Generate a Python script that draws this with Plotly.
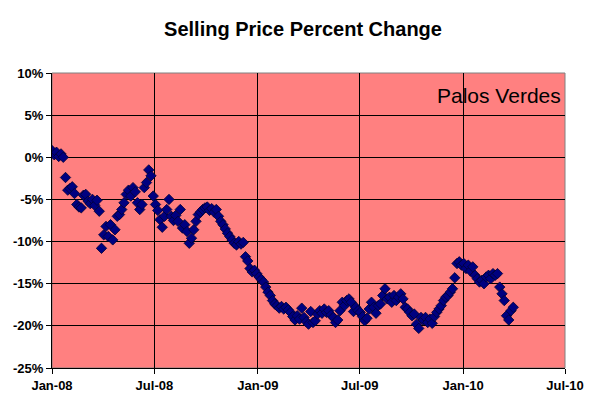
import pandas as pd
import plotly.graph_objects as go

# sampling of the series: every 4 days starting Jan 1 2008
start_date = "2008-01-01"
step = "4D"

pct_change = [
    0.8, 0.3, 0.6, 0.1, 0.4, 0.0, -2.4, -3.9, -3.7, -3.5,
    -4.3, -5.6, -5.9, -6.0, -4.5, -4.4, -5.2, -5.5, -5.0, -5.7,
    -5.1, -6.4, -10.8, -9.2, -8.2, -9.4, -8.0, -9.8, -8.6, -7.0,
    -6.8, -6.2, -5.4, -4.4, -3.9, -4.6, -3.6, -4.1, -5.4, -6.2,
    -5.6, -3.6, -3.0, -1.5, -2.2, -4.6, -5.6, -6.3, -7.4, -8.3,
    -7.0, -6.2, -5.0, -7.0, -7.5, -6.9, -7.6, -6.2, -8.4, -8.0,
    -8.8, -10.2, -9.6, -8.6, -7.6, -6.8, -6.5, -6.2, -6.0, -5.9,
    -6.3, -6.1, -6.5, -6.2, -7.0, -7.6, -8.0, -8.5, -9.0, -9.4,
    -9.8, -10.2, -10.4, -10.0, -10.3, -10.1, -11.8, -12.3, -13.2, -13.6,
    -13.4, -13.8, -14.2, -14.5, -14.8, -15.4, -16.0, -16.4, -17.0, -17.4,
    -17.6, -17.9, -17.7, -18.0, -17.8, -18.1, -18.4, -18.9, -19.3, -18.8,
    -19.2, -17.9, -19.0, -19.5, -19.8, -18.3, -19.6, -19.4, -18.6, -18.2,
    -18.5, -18.0, -18.4, -18.2, -18.7, -19.0, -19.6, -19.3, -18.2, -17.2,
    -17.6, -17.0, -16.8, -17.2, -18.3, -17.8, -18.2, -18.4, -18.9, -19.4,
    -19.1, -18.0, -17.2, -17.8, -18.5, -17.6, -17.4, -16.4, -15.6, -16.8,
    -16.6, -17.2, -16.4, -17.0, -16.6, -16.2, -16.8, -17.8, -18.0, -18.4,
    -18.8, -18.6, -19.8, -20.3, -19.0, -19.3, -19.0, -19.6, -19.2, -19.7,
    -18.9, -18.4, -18.0, -17.6, -17.0, -16.6, -16.4, -16.0, -15.6, -14.3,
    -12.6, -12.4, -12.8, -12.6, -13.2, -12.8, -13.5, -13.0, -14.0, -14.4,
    -14.8, -14.6, -15.0, -14.2, -14.0, -14.4, -13.8, -14.0, -13.8, -15.4,
    -16.2, -17.0, -18.8, -19.3, -18.2, -17.8,
]

dates = pd.date_range(start_date, periods=len(pct_change), freq=step)

x_ticks = ["2008-01-01", "2008-07-01", "2009-01-01", "2009-07-01", "2010-01-01", "2010-07-01"]
x_labels = ["Jan-08", "Jul-08", "Jan-09", "Jul-09", "Jan-10", "Jul-10"]
y_ticks = [10, 5, 0, -5, -10, -15, -20, -25]
y_labels = ["10%", "5%", "0%", "-5%", "-10%", "-15%", "-20%", "-25%"]

fig = go.Figure()
fig.add_trace(go.Scatter(
    x=dates, y=pct_change, mode="markers",
    marker=dict(symbol="diamond", size=8, color="#000080",
                line=dict(width=0.8, color="#000033")),
    showlegend=False,
))

# page body has an 8px margin, so the figure is a bit smaller than the window
fig.update_layout(
    width=590, height=398,
    margin=dict(l=44, r=33, t=65, b=38),
    paper_bgcolor="white", plot_bgcolor="#FF8080",
    font=dict(family="Arial, Liberation Sans, sans-serif", color="black"),
    title=dict(text="Selling Price Percent Change", x=0.5, xanchor="center",
               y=0.948, yanchor="middle",
               font=dict(size=20, weight="bold", color="black")),
)
fig.update_xaxes(
    range=["2008-01-01", "2010-07-01"], tickvals=x_ticks, ticktext=x_labels,
    tickfont=dict(size=13, weight="bold"),
    showgrid=True, gridcolor="black", gridwidth=1,
    showline=True, linecolor="black", linewidth=1,
    ticks="outside", ticklen=5, tickcolor="black",
    zeroline=False, automargin=False,
)
fig.update_yaxes(
    range=[-25, 10], tickvals=y_ticks, ticktext=y_labels,
    tickfont=dict(size=13, weight="bold"),
    showgrid=True, gridcolor="black", gridwidth=1,
    showline=True, linecolor="black", linewidth=1,
    ticks="outside", ticklen=5, tickcolor="black",
    zeroline=False, automargin=False,
)
# grey frame on top and right of the plot area
fig.add_shape(type="rect", xref="paper", yref="paper", x0=0, y0=0, x1=1, y1=1,
              line=dict(color="#808080", width=1), layer="below")

fig.add_annotation(text="Palos Verdes", xref="paper", yref="paper",
                   x=0.997, y=0.925, xanchor="right", yanchor="middle",
                   showarrow=False, font=dict(size=21, color="black"))

fig.write_html("out.html")
